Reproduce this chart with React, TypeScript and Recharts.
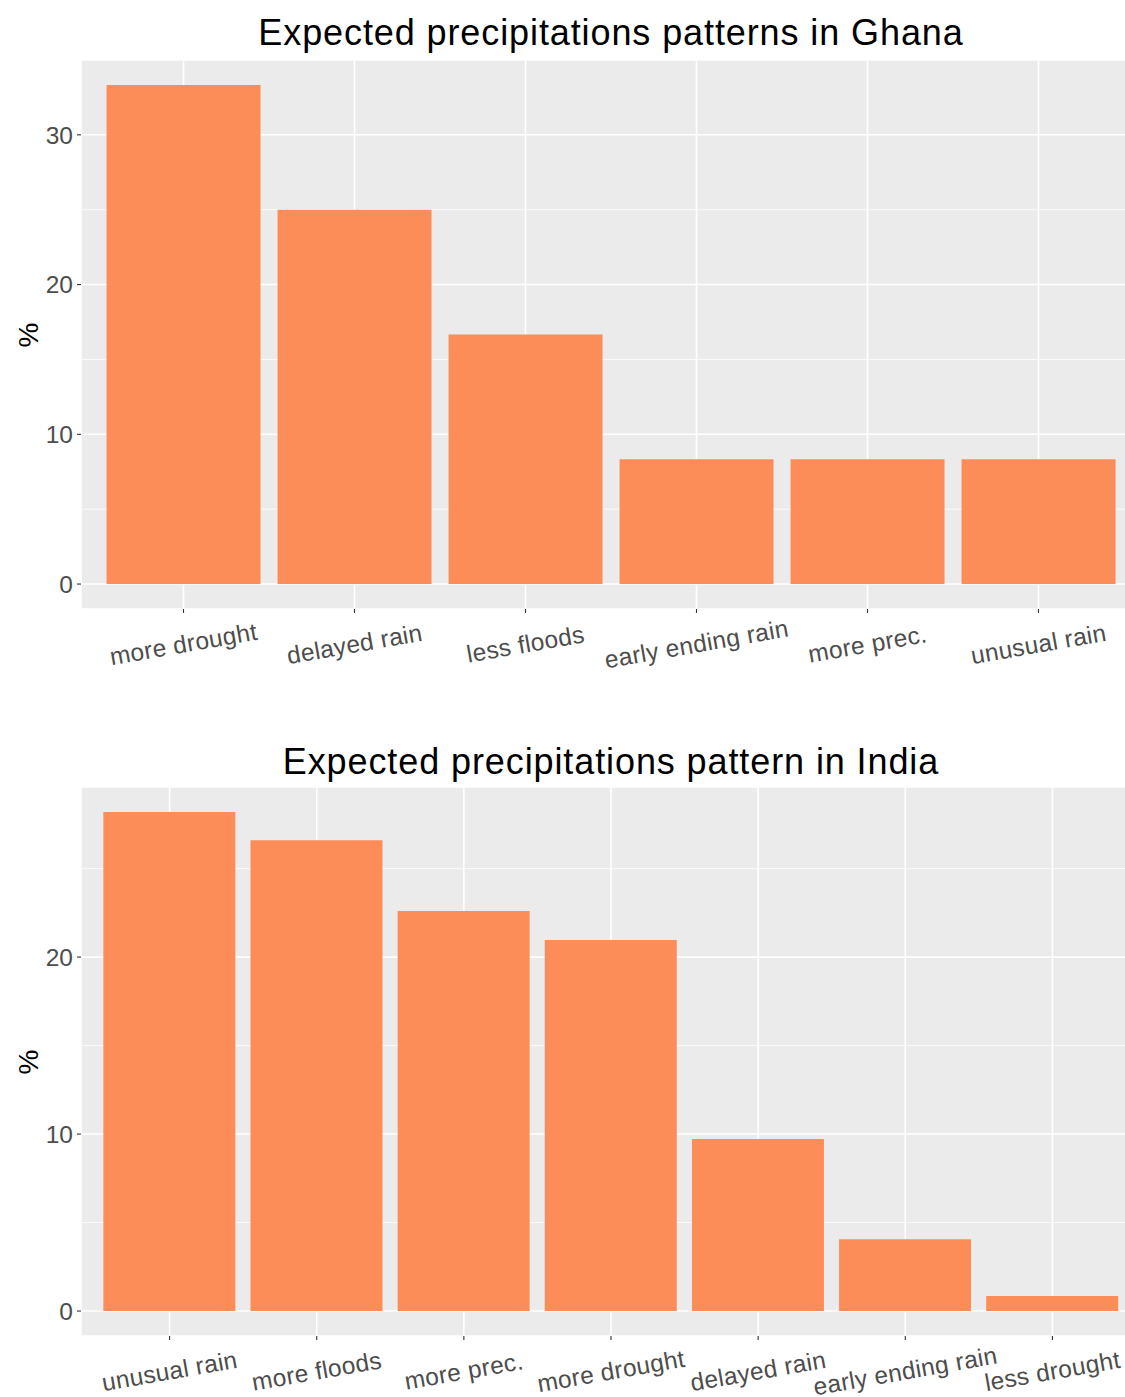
import React from "react";
import { BarChart, Bar, XAxis, YAxis, CartesianGrid } from "recharts";

const ghanaCategories = ["more drought", "delayed rain", "less floods", "early ending rain", "more prec.", "unusual rain"];
const ghanaValues = [33.33, 25.0, 16.67, 8.33, 8.33, 8.33];
const ghanaTicks = [0, 10, 20, 30];
const ghanaMinor = [5, 15, 25];
const ghanaTitle = "Expected precipitations patterns in Ghana";

const indiaCategories = ["unusual rain", "more floods", "more prec.", "more drought", "delayed rain", "early ending rain", "less drought"];
const indiaValues = [28.2, 26.6, 22.6, 20.96, 9.72, 4.05, 0.85];
const indiaTicks = [0, 10, 20];
const indiaMinor = [5, 15, 25];
const indiaTitle = "Expected precipitations pattern in India";

const FONT = "'Liberation Sans', Arial, sans-serif";
const BAR = "#FC8D59";
const PANEL = "#EBEBEB";

const XTick = (props: any) => {
  const { x, y, payload } = props;
  const cy = y + 31;
  return (
    <text
      x={x}
      y={cy}
      transform={`rotate(-10 ${x} ${cy})`}
      textAnchor="middle"
      dominantBaseline="central"
      fontSize={24.5}
      fontFamily={FONT}
      fill="#4D4D4D"
      letterSpacing={0.3}
    >
      {payload.value}
    </text>
  );
};

const YTick = (props: any) => {
  const { x, y, payload } = props;
  return (
    <text x={x} y={y} dy="0.36em" textAnchor="end" fontSize={24.5} fontFamily={FONT} fill="#4D4D4D">
      {payload.value}
    </text>
  );
};

function Panel({ cats, vals, ticks, minor, pad }: { cats: string[]; vals: number[]; ticks: number[]; minor: number[]; pad: number }) {
  const data = cats.map((c, i) => ({ name: c, value: vals[i] }));
  return (
    <BarChart
      width={1141}
      height={700}
      data={data}
      margin={{ top: 60, right: 0, bottom: 0, left: 0 }}
      barCategoryGap="5%"
    >
      <CartesianGrid fill={PANEL} stroke="#FFFFFF" strokeWidth={1.6} />
      <CartesianGrid horizontalValues={minor} vertical={false} stroke="#FFFFFF" strokeWidth={0.8} />
      <XAxis
        dataKey="name"
        type="category"
        height={91}
        padding={{ left: pad, right: pad }}
        axisLine={false}
        tickLine={{ stroke: "#333333", strokeWidth: 1.1 }}
        tickSize={4}
        tickMargin={0}
        interval={0}
        tick={<XTick />}
      />
      <YAxis
        type="number"
        width={81}
        domain={[(min: number) => -0.05 * Math.max(...vals), (max: number) => 1.05 * max]}
        ticks={ticks}
        allowDataOverflow
        axisLine={false}
        tickLine={{ stroke: "#333333", strokeWidth: 1.1 }}
        tickSize={4}
        tickMargin={4}
        tick={<YTick />}
      />
      <Bar dataKey="value" fill={BAR} isAnimationActive={false} />
    </BarChart>
  );
}

export default function App() {
  return (
    <div style={{ position: "absolute", left: 0, top: 0, width: 1125, height: 1397, overflow: "hidden", background: "#FFFFFF" }}>
      <div style={{ position: "absolute", left: 0, top: 0 }}>
        <Panel cats={ghanaCategories} vals={ghanaValues} ticks={ghanaTicks} minor={ghanaMinor} pad={17} />
      </div>
      <div style={{ position: "absolute", left: 0, top: 727 }}>
        <Panel cats={indiaCategories} vals={indiaValues} ticks={indiaTicks} minor={indiaMinor} pad={15} />
      </div>
      <svg width={1125} height={1397} style={{ position: "absolute", left: 0, top: 0, pointerEvents: "none" }}>
        <text x={611} y={45} textAnchor="middle" fontSize={36} letterSpacing={0.9} fontFamily={FONT} fill="#000000">
          {ghanaTitle}
        </text>
        <text x={611} y={774} textAnchor="middle" fontSize={36} letterSpacing={0.9} fontFamily={FONT} fill="#000000">
          {indiaTitle}
        </text>
        <text x={28} y={335} transform="rotate(-90 28 335)" textAnchor="middle" dominantBaseline="central" fontSize={28} fontFamily={FONT} fill="#000000">
          %
        </text>
        <text x={28} y={1062} transform="rotate(-90 28 1062)" textAnchor="middle" dominantBaseline="central" fontSize={28} fontFamily={FONT} fill="#000000">
          %
        </text>
      </svg>
    </div>
  );
}
